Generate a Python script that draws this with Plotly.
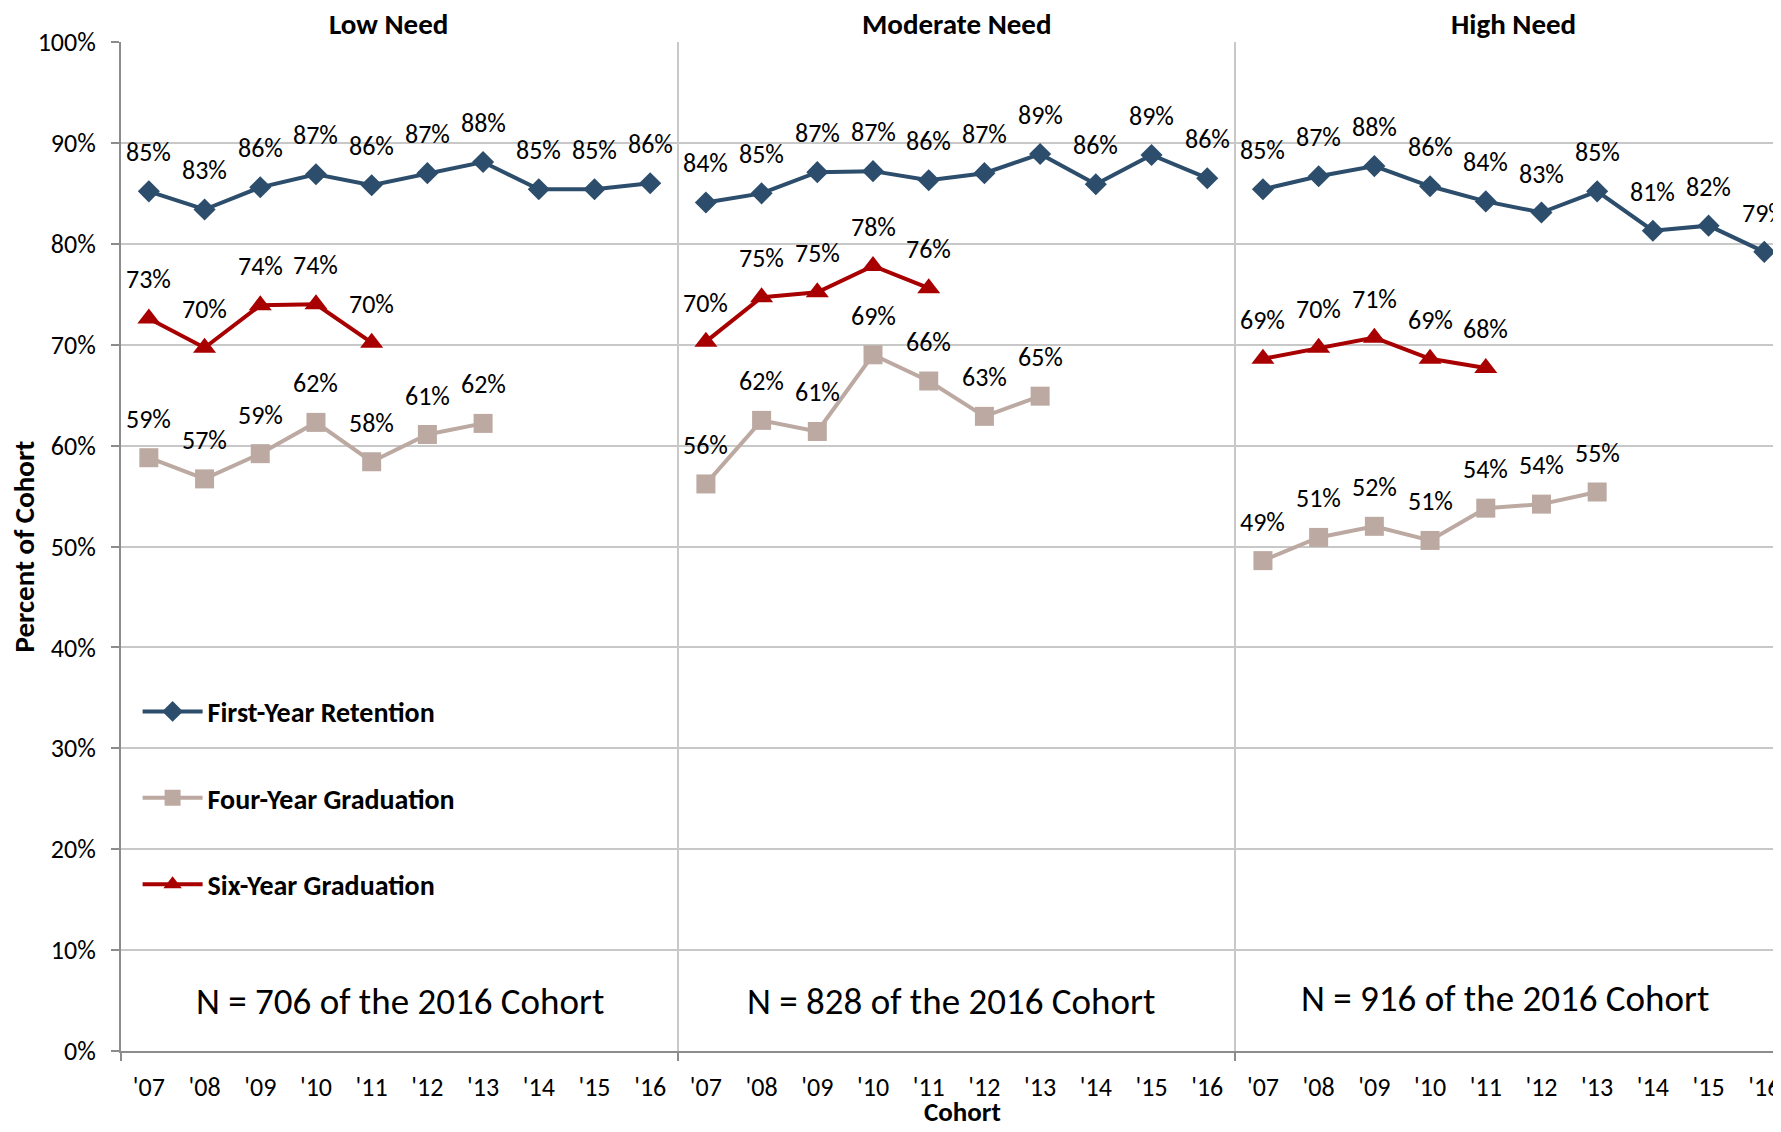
import plotly.graph_objects as go

# cohorts shown in each of the three panels
cohorts = ["'07", "'08", "'09", "'10", "'11", "'12", "'13", "'14", "'15", "'16"]
panels = ["Low Need", "Moderate Need", "High Need"]
panel_n = ["N = 706 of the 2016 Cohort", "N = 828 of the 2016 Cohort", "N = 916 of the 2016 Cohort"]

# percent values (one list per panel)
retention_low = [85.2, 83.4, 85.6, 86.9, 85.8, 87.0, 88.1, 85.4, 85.4, 86.0]
retention_mod = [84.1, 85.0, 87.1, 87.2, 86.3, 87.0, 88.9, 85.9, 88.8, 86.5]
retention_high = [85.4, 86.7, 87.7, 85.7, 84.2, 83.1, 85.2, 81.3, 81.8, 79.2]

four_year_low = [58.8, 56.7, 59.2, 62.3, 58.4, 61.1, 62.2]
four_year_mod = [56.2, 62.5, 61.4, 69.0, 66.4, 62.9, 64.9]
four_year_high = [48.6, 50.9, 52.0, 50.6, 53.8, 54.2, 55.4]

six_year_low = [72.6, 69.7, 73.9, 74.0, 70.2]
six_year_mod = [70.3, 74.7, 75.2, 77.8, 75.6]
six_year_high = [68.6, 69.7, 70.7, 68.6, 67.7]

series = [
    ("First-Year Retention", [retention_low, retention_mod, retention_high], "#2C4D6B", "diamond", 17),
    ("Four-Year Graduation", [four_year_low, four_year_mod, four_year_high], "#BCA9A2", "square", 19),
    ("Six-Year Graduation", [six_year_low, six_year_mod, six_year_high], "#A80000", "triangle-up", 20),
]

FONT = "Carlito, Lato, sans-serif"

fig = go.Figure()
annotations = []

for name, per_panel, color, symbol, msize in series:
    for p, vals in enumerate(per_panel):
        xs = [p * len(cohorts) + i for i in range(len(vals))]
        fig.add_trace(go.Scatter(
            x=xs, y=vals, mode="lines+markers", name=name,
            legendgroup=name, showlegend=(p == 0),
            line=dict(color=color, width=4),
            marker=dict(symbol=symbol, size=msize, color=color),
        ))
        # data labels above each point
        for x, v in zip(xs, vals):
            annotations.append(dict(
                x=x, y=v, text=f"{round(v):.0f}%", showarrow=False,
                xanchor="center", yshift=39,
                font=dict(family=FONT, size=26, color="#000000"),
            ))

# panel titles and cohort counts
title_x = [4.3, 14.5, 24.5]
n_x = [4.5, 14.4, 24.35]
n_y = [4.9, 4.9, 5.2]
for p in range(len(panels)):
    annotations.append(dict(
        x=title_x[p], xref="x", y=1, yref="paper", xanchor="center", yanchor="bottom",
        yshift=-2,
        text=f"<b>{panels[p]}</b>", showarrow=False,
        font=dict(family=FONT, size=29, color="#000000"),
    ))
    annotations.append(dict(
        x=n_x[p], y=n_y[p], text=panel_n[p], showarrow=False, xanchor="center",
        font=dict(family=FONT, size=37, color="#000000"),
    ))

annotations.append(dict(
    x=-0.059, xref="paper", y=0.5, yref="paper", textangle=-90,
    xanchor="center", yanchor="middle",
    text="<b>Percent of Cohort</b>", showarrow=False,
    font=dict(family=FONT, size=29, color="#000000"),
))
annotations.append(dict(
    x=14.6, xref="x", y=0, yref="paper", xanchor="center", yanchor="bottom",
    yshift=-79,
    text="<b>Cohort</b>", showarrow=False,
    font=dict(family=FONT, size=27, color="#000000"),
))

tick_vals = list(range(len(panels) * len(cohorts)))
tick_text = cohorts * len(panels)

# page body adds an 8px margin, so the figure is sized to fit inside the window
fig.update_layout(
    width=1773, height=1116,
    margin=dict(l=113, r=0, t=34, b=73),
    plot_bgcolor="white", paper_bgcolor="white",
    font=dict(family=FONT, size=26, color="#000000"),
    annotations=annotations,
    legend=dict(
        x=0.010, y=0.361, xanchor="left", yanchor="top",
        bgcolor="rgba(0,0,0,0)", tracegroupgap=47,
        font=dict(family=FONT, size=28, color="#000000", weight="bold"),
        itemwidth=60,
    ),
    xaxis=dict(
        range=[-0.5, 29.3], tickmode="array", tickvals=tick_vals, ticktext=tick_text,
        showgrid=False, zeroline=False, ticks="", automargin=False,
        showline=True, linecolor="#8C8C8C", linewidth=2,
        tickfont=dict(family=FONT, size=26), ticklabelstandoff=12,
        minor=dict(tickmode="array", tickvals=[-0.5, 9.5, 19.5], showgrid=True,
                   gridcolor="#C8C8C8", gridwidth=2, ticks="outside",
                   ticklen=8, tickcolor="#8C8C8C", tickwidth=2),
    ),
    yaxis=dict(
        range=[0, 100], dtick=10, ticksuffix="%", automargin=False,
        showgrid=True, gridcolor="#C8C8C8", gridwidth=2, zeroline=False,
        showline=True, linecolor="#8C8C8C", linewidth=2,
        ticks="outside", ticklen=8, tickcolor="#8C8C8C", tickwidth=2,
        tickfont=dict(family=FONT, size=26), ticklabelstandoff=10,
    ),
)

fig.write_html("out.html")
